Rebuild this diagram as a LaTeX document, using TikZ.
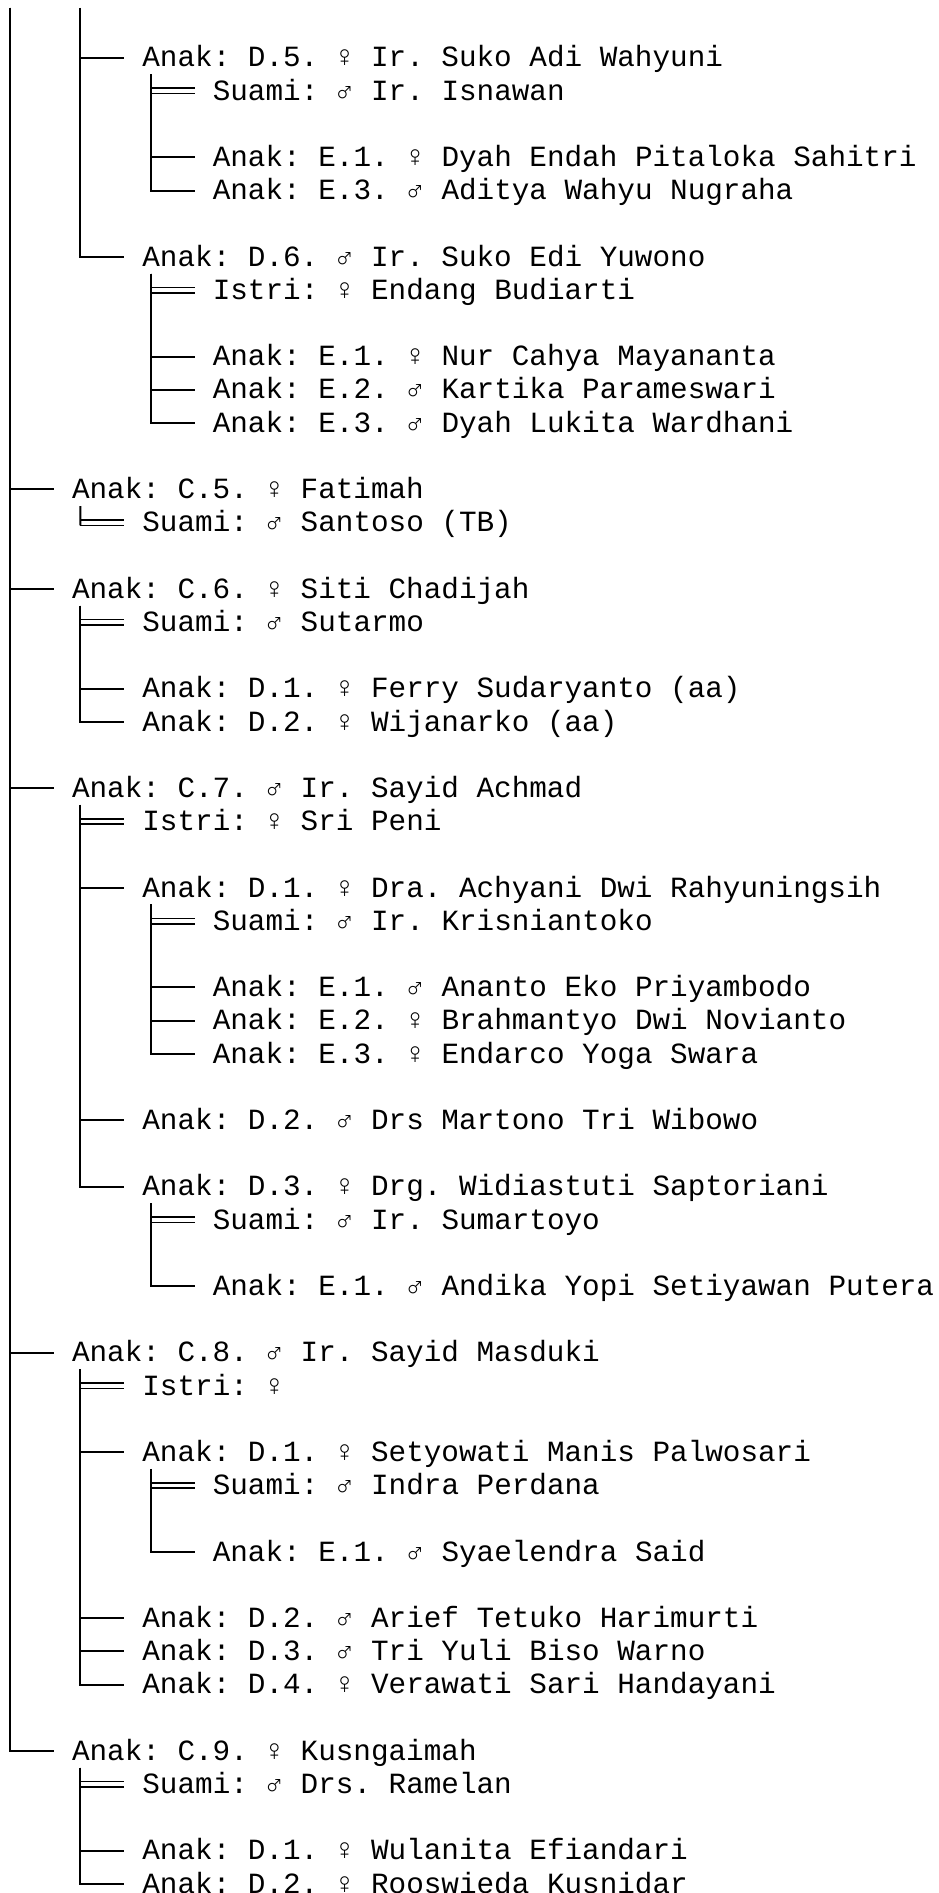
\documentclass[tikz,border=0pt]{standalone}
\usepackage{fontspec}
\setmonofont{Liberation Mono}
\usetikzlibrary{calc}

\tikzset{
  person/.style={anchor=west, inner sep=0pt, text height=12.6pt, text depth=3.4pt,
    font=\fontsize{14.66pt}{16.6pt}\selectfont\ttfamily\frenchspacing},
  branch/.style={line width=1pt},
  wed/.style={line width=0.8pt},
}

\begin{document}
\begin{tikzpicture}[x=8.8pt, y=-16.6pt]
\useasboundingbox (-0.6pt,12.3pt) rectangle ++(469pt,-946.5pt);

% Parents above the page
\coordinate (b) at (0,-1);
\coordinate (c4) at (4,-1);

% Children of C.4
\node[person] (d5)   at (8,1)  {Anak: D.5. ♀ Ir. Suko Adi Wahyuni};
\node[person] (d5s)  at (12,2) {Suami: ♂ Ir. Isnawan};
\node[person] (d5e1) at (12,4) {Anak: E.1. ♀ Dyah Endah Pitaloka Sahitri};
\node[person] (d5e3) at (12,5) {Anak: E.3. ♂ Aditya Wahyu Nugraha};
\node[person] (d6)   at (8,7)  {Anak: D.6. ♂ Ir. Suko Edi Yuwono};
\node[person] (d6i)  at (12,8) {Istri: ♀ Endang Budiarti};
\node[person] (d6e1) at (12,10) {Anak: E.1. ♀ Nur Cahya Mayananta};
\node[person] (d6e2) at (12,11) {Anak: E.2. ♂ Kartika Parameswari};
\node[person] (d6e3) at (12,12) {Anak: E.3. ♂ Dyah Lukita Wardhani};

% C.5 and C.6
\node[person] (c5)   at (4,14) {Anak: C.5. ♀ Fatimah};
\node[person] (c5s)  at (8,15) {Suami: ♂ Santoso (TB)};
\node[person] (c6)   at (4,17) {Anak: C.6. ♀ Siti Chadijah};
\node[person] (c6s)  at (8,18) {Suami: ♂ Sutarmo};
\node[person] (c6d1) at (8,20) {Anak: D.1. ♀ Ferry Sudaryanto (aa)};
\node[person] (c6d2) at (8,21) {Anak: D.2. ♀ Wijanarko (aa)};

% C.7
\node[person] (c7)     at (4,23)  {Anak: C.7. ♂ Ir. Sayid Achmad};
\node[person] (c7i)    at (8,24)  {Istri: ♀ Sri Peni};
\node[person] (c7d1)   at (8,26)  {Anak: D.1. ♀ Dra. Achyani Dwi Rahyuningsih};
\node[person] (c7d1s)  at (12,27) {Suami: ♂ Ir. Krisniantoko};
\node[person] (c7d1e1) at (12,29) {Anak: E.1. ♂ Ananto Eko Priyambodo};
\node[person] (c7d1e2) at (12,30) {Anak: E.2. ♀ Brahmantyo Dwi Novianto};
\node[person] (c7d1e3) at (12,31) {Anak: E.3. ♀ Endarco Yoga Swara};
\node[person] (c7d2)   at (8,33)  {Anak: D.2. ♂ Drs Martono Tri Wibowo};
\node[person] (c7d3)   at (8,35)  {Anak: D.3. ♀ Drg. Widiastuti Saptoriani};
\node[person] (c7d3s)  at (12,36) {Suami: ♂ Ir. Sumartoyo};
\node[person] (c7d3e1) at (12,38) {Anak: E.1. ♂ Andika Yopi Setiyawan Putera};

% C.8
\node[person] (c8)     at (4,40)  {Anak: C.8. ♂ Ir. Sayid Masduki};
\node[person] (c8i)    at (8,41)  {Istri: ♀};
\node[person] (c8d1)   at (8,43)  {Anak: D.1. ♀ Setyowati Manis Palwosari};
\node[person] (c8d1s)  at (12,44) {Suami: ♂ Indra Perdana};
\node[person] (c8d1e1) at (12,46) {Anak: E.1. ♂ Syaelendra Said};
\node[person] (c8d2)   at (8,48)  {Anak: D.2. ♂ Arief Tetuko Harimurti};
\node[person] (c8d3)   at (8,49)  {Anak: D.3. ♂ Tri Yuli Biso Warno};
\node[person] (c8d4)   at (8,50)  {Anak: D.4. ♀ Verawati Sari Handayani};

% C.9
\node[person] (c9)   at (4,52) {Anak: C.9. ♀ Kusngaimah};
\node[person] (c9s)  at (8,53) {Suami: ♂ Drs. Ramelan};
\node[person] (c9d1) at (8,55) {Anak: D.1. ♀ Wulanita Efiandari};
\node[person] (c9d2) at (8,56) {Anak: D.2. ♀ Rooswieda Kusnidar};

% Branches
\foreach \k in {c5,c6,c7,c8,c9}
  \draw[branch] ($(b)+(0.5,0.5)$) |- ($(\k.west)+(-1,0)$);
\foreach \k in {d5,d6}
  \draw[branch] ($(c4)+(0.5,0.5)$) |- ($(\k.west)+(-1,0)$);
\foreach \p/\k in {d5/d5e1, d5/d5e3, d6/d6e1, d6/d6e2, d6/d6e3,
    c6/c6d1, c6/c6d2, c7/c7d1, c7/c7d2, c7/c7d3,
    c7d1/c7d1e1, c7d1/c7d1e2, c7d1/c7d1e3, c7d3/c7d3e1,
    c8/c8d1, c8/c8d2, c8/c8d3, c8/c8d4, c8d1/c8d1e1,
    c9/c9d1, c9/c9d2}
  \draw[branch] ($(\p.west)+(0.5,0.5)$) |- ($(\k.west)+(-1,0)$);
\draw[branch] ($(c5.west)+(0.5,0.5)$) -- ($(c5s.west)+(-3.5,0)+(0,-1.35pt)$);

% Marriages
\foreach \s in {d5s,d6i,c5s,c6s,c7i,c7d1s,c7d3s,c8i,c8d1s,c9s} {
  \draw[wed] ($(\s.west)+(-3.5,0)+(0,1.35pt)$) -- ++(2.5,0);
  \draw[wed] ($(\s.west)+(-3.5,0)+(0,-1.35pt)$) -- ++(2.5,0);
}

\end{tikzpicture}
\end{document}
